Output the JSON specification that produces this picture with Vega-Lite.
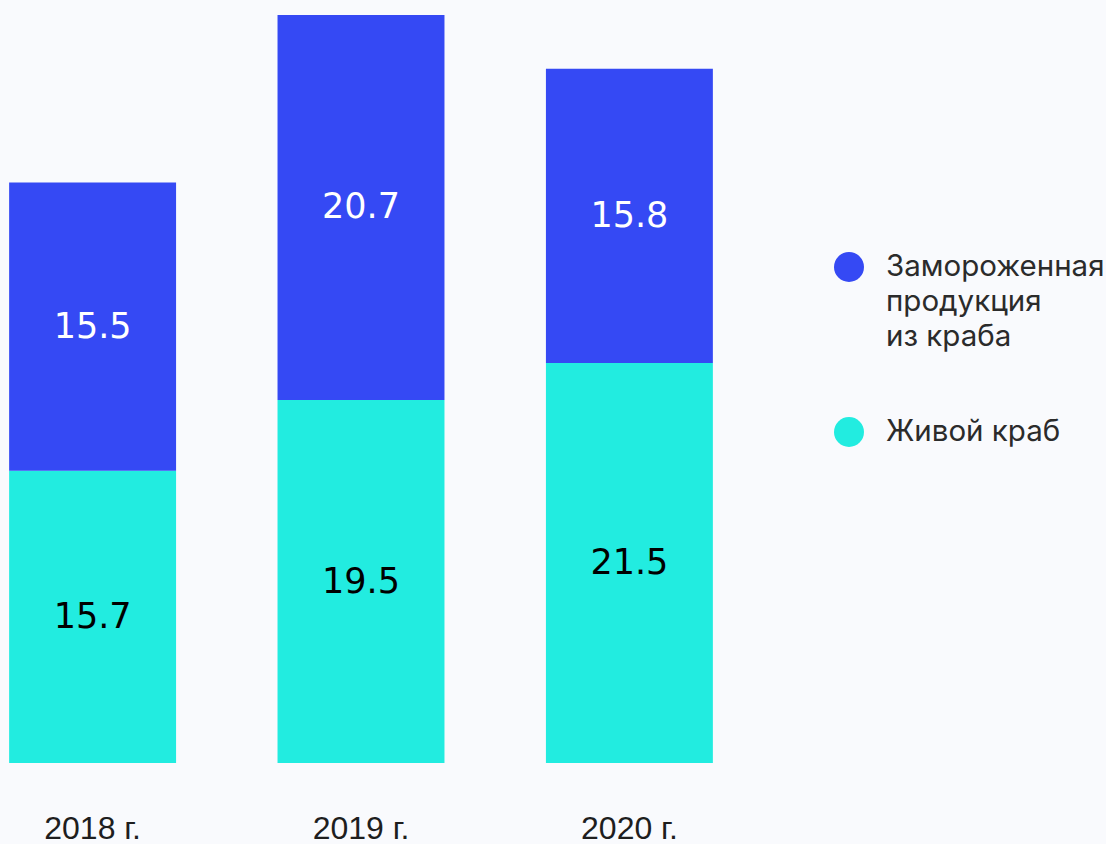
{
  "$schema": "https://vega.github.io/schema/vega-lite/v6.json",
  "width": 722,
  "height": 763,
  "padding": 0,
  "autosize": {"type": "pad"},
  "background": "#f9fafd",
  "config": {"view": {"stroke": null}},
  "data": {"values": [
    {"year": "2018 г.", "type": "Живой краб", "order": 1, "value": 15.7},
    {"year": "2018 г.", "type": "Замороженная продукция из краба", "order": 2, "value": 15.5},
    {"year": "2019 г.", "type": "Живой краб", "order": 1, "value": 19.5},
    {"year": "2019 г.", "type": "Замороженная продукция из краба", "order": 2, "value": 20.7},
    {"year": "2020 г.", "type": "Живой краб", "order": 1, "value": 21.5},
    {"year": "2020 г.", "type": "Замороженная продукция из краба", "order": 2, "value": 15.8}
  ]},
  "encoding": {
    "x": {"field": "year", "type": "nominal", "sort": null,
      "scale": {"paddingInner": 0.378, "paddingOuter": 0.034},
      "axis": {"title": null, "labelAngle": 0, "domain": false, "ticks": false, "labelPadding": 50,
        "labelFontSize": 32, "labelFont": "Liberation Sans", "labelColor": "#1e1e1e"}},
    "y": {"field": "value", "type": "quantitative", "stack": "zero",
      "scale": {"domain": [0, 41]}, "axis": null},
    "order": {"field": "order", "type": "quantitative"}
  },
  "layer": [
    {"mark": {"type": "bar"},
     "encoding": {
       "color": {"field": "type", "type": "nominal",
         "scale": {"domain": ["Замороженная продукция из краба", "Живой краб"], "range": ["#3549f4", "#22ece0"]},
         "legend": {"title": null, "orient": "none", "legendX": 826, "legendY": 244, "padding": 8,
           "symbolType": "circle", "symbolSize": 900, "symbolStrokeWidth": 0,
           "labelFontSize": 29.5, "labelFont": "Inter", "labelColor": "#2b2b2b", "labelLimit": 400,
           "labelOffset": 22, "labelBaseline": "middle",
           "rowPadding": 65,
           "encode": {"labels": {"update": {"lineHeight": {"value": 35}}}},
           "labelExpr": "datum.label == 'Живой краб' ? datum.label : ['Замороженная', 'продукция', 'из краба']"}
       }}},
    {"mark": {"type": "text", "fontSize": 35, "font": "DejaVu Sans", "baseline": "middle"},
     "encoding": {
       "y": {"field": "value", "type": "quantitative", "stack": "zero", "bandPosition": 0.5},
       "text": {"field": "value", "type": "quantitative", "format": ".1f"},
       "color": {"condition": {"test": "datum.order == 2", "value": "#ffffff"}, "value": "#000000"}
     }}
  ]
}
